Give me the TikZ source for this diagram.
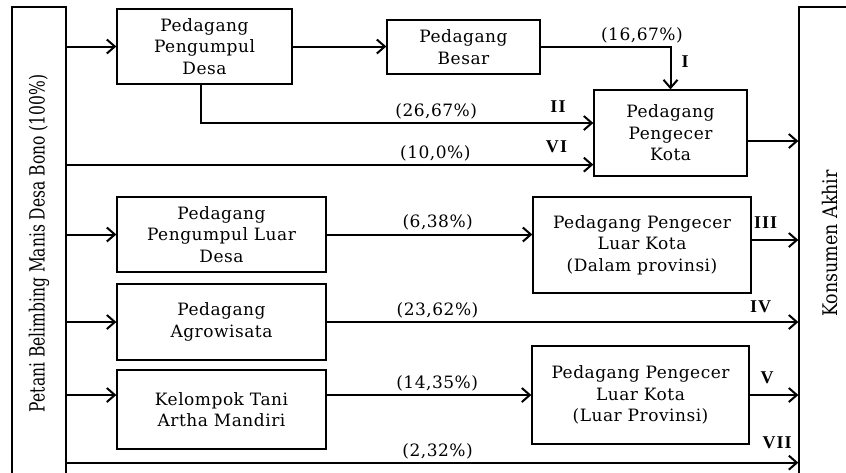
\documentclass[tikz,border=0pt]{standalone}
\usepackage{fontspec}
\setmainfont{DejaVu Serif}[LetterSpace=3]
\newfontfamily\plainserif{DejaVu Serif}
\newfontfamily\romanfont{Liberation Serif}[LetterSpace=6]
\usetikzlibrary{arrows.meta,calc,positioning}
\tikzset{
	chain box/.style={draw,line width=1.3pt,align=center,inner sep=0pt,
		font=\fontsize{17}{21.5}\selectfont},
	side box/.style={draw,line width=1.3pt,inner sep=0pt},
	ar/.style={line width=2pt,-{Straight Barb[length=8pt,width=14pt]}},
	pct/.style={font=\fontsize{17}{20}\selectfont,inner sep=3pt},
	route/.style={font=\romanfont\bfseries\fontsize{18}{18}\selectfont,inner sep=0pt}
}

\begin{document}
\begin{tikzpicture}[x=1pt,y=-1pt]
	\useasboundingbox (0,0) rectangle (846,472);
	% the two ends of the channel
	\node[side box,minimum width=54pt,minimum height=473pt] (petani) at (39,243.5)
		{\plainserif\fontsize{15.5}{16}\selectfont\rotatebox{90}{\scalebox{1}[1.35]{Petani Belimbing Manis Desa Bono (100\%)}}};
	\node[side box,minimum width=62pt,minimum height=473pt] (konsumen) at (830,243.5)
		{\plainserif\fontsize{17.5}{18}\selectfont\rotatebox{90}{\scalebox{1}[1.15]{Konsumen Akhir}}};
	% traders
	\node[chain box,minimum width=175pt,minimum height=75pt] (ppd) at (204.5,46.5) {Pedagang\\Pengumpul\\Desa};
	\node[chain box,minimum width=153pt,minimum height=54pt] (besar) at (463.5,47) {Pedagang\\Besar};
	\node[chain box,minimum width=153pt,minimum height=86pt] (ppk) at (670.5,133) {Pedagang\\Pengecer\\Kota};
	\node[chain box,minimum width=209pt,minimum height=75pt] (pld) at (221.5,234.5) {Pedagang\\Pengumpul Luar\\Desa};
	\node[chain box,minimum width=218pt,minimum height=96pt] (plkd) at (642,245) {Pedagang Pengecer\\Luar Kota\\(Dalam provinsi)};
	\node[chain box,minimum width=209pt,minimum height=76pt] (agro) at (221.5,322) {Pedagang\\Agrowisata};
	\node[chain box,minimum width=209pt,minimum height=79pt] (kt) at (221.5,409.5) {Kelompok Tani\\Artha Mandiri};
	\node[chain box,minimum width=217pt,minimum height=98pt] (plkl) at (640.5,395) {Pedagang Pengecer\\Luar Kota\\(Luar Provinsi)};
	% flows
	\draw[ar] (petani.east |- ppd.west) -- (ppd.west);
	\draw[ar] (ppd.east) -- (ppd.east -| besar.west);
	\draw[ar] (besar.east) -| node[pct,above,pos=.39] {(16,67\%)} node[route,right=10pt,pos=.67] {I} (ppk.north);
	\draw[ar] ([xshift=-4pt]ppd.south) |- node[pct,above,pos=.8] {(26,67\%)} node[route,above=10pt,pos=.955] {II} ([yshift=10pt]ppk.west);
	\draw[ar] ([yshift=12pt]petani.east |- ppk.south) -- node[pct,above,pos=.7] {(10,0\%)} node[route,above=11pt,pos=.93] {VI} ([yshift=12pt]ppk.south west);
	\draw[ar] ([yshift=-8pt]ppk.east) -- ([yshift=-8pt]ppk.east -| konsumen.west);
	\draw[ar] (petani.east |- pld.west) -- (pld.west);
	\draw[ar] (pld.east) -- node[pct,above,pos=.54] {(6,38\%)} (pld.east -| plkd.west);
	\draw[ar] ([yshift=5pt]plkd.east) -- node[route,above=11pt,pos=.3] {III} ([yshift=5pt]plkd.east -| konsumen.west);
	\draw[ar] (petani.east |- agro.west) -- (agro.west);
	\draw[ar] (agro.east) -- node[pct,above,pos=.235] {(23,62\%)} node[route,above=8pt,pos=.92] {IV} (agro.east -| konsumen.west);
	\draw[ar] (petani.east |- plkl.west) -- (kt.west |- plkl.west);
	\draw[ar] (kt.east |- plkl.west) -- node[pct,above,pos=.54] {(14,35\%)} (plkl.west);
	\draw[ar] (plkl.east) -- node[route,above=10pt,pos=.36] {V} (plkl.east -| konsumen.west);
	\draw[ar] ([yshift=18pt]petani.south east) -- node[pct,above,pos=.507] {(2,32\%)} node[route,above=13pt,pos=.971] {VII} ([yshift=18pt]petani.south east -| konsumen.west);
\end{tikzpicture}
\end{document}
